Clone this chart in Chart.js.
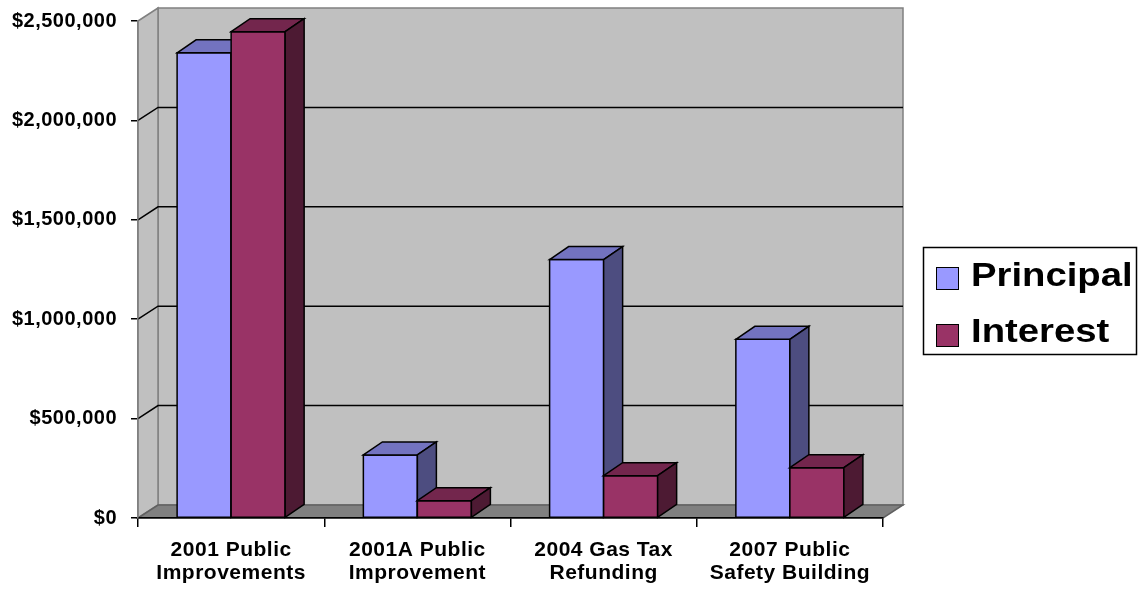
<!DOCTYPE html>
<html lang="en">
<head>
<meta charset="UTF-8">
<title>Debt Service - Principal and Interest</title>
<script src="https://cdn.jsdelivr.net/npm/chart.js"></script>
<style>
    html, body { margin: 0; padding: 0; background: #fff; }
    #wrap { width: 1139px; height: 593px; }
</style>
</head>
<body>
<div id="wrap"><canvas id="debt-chart"></canvas></div>
<script>
    // chart data
    const categories = [
        ['2001 Public', 'Improvements'],
        ['2001A Public', 'Improvement'],
        ['2004 Gas Tax', 'Refunding'],
        ['2007 Public', 'Safety Building']
    ];
    const seriesNames = ['Principal', 'Interest'];
    const principal = [2340000, 317000, 1300000, 899000];
    const interest = [2446000, 87000, 213000, 253000];
    const yTicks = [0, 500000, 1000000, 1500000, 2000000, 2500000];

    const FONT = "'Liberation Sans', Arial, sans-serif";
    const DX = 20, DY = 13;     // depth of the walls
    const BDX = 19, BDY = 13;   // depth of the bars
    const faces = [
        { front: '#9999ff', top: '#7373c0', side: '#4d4d80' },
        { front: '#993366', top: '#73264d', side: '#4d1a33' }
    ];

    function poly(ctx, pts, fill, stroke, lw) {
        ctx.beginPath();
        ctx.moveTo(pts[0][0], pts[0][1]);
        for (let i = 1; i < pts.length; i++) ctx.lineTo(pts[i][0], pts[i][1]);
        ctx.closePath();
        if (fill) { ctx.fillStyle = fill; ctx.fill(); }
        if (stroke) { ctx.strokeStyle = stroke; ctx.lineWidth = lw || 1; ctx.stroke(); }
    }

    const walls3d = {
        id: 'walls3d',
        beforeDraw(chart) {
            const ctx = chart.ctx;
            const { left, right, top, bottom } = chart.chartArea;
            const y = chart.scales.y;
            ctx.save();
            ctx.lineJoin = 'miter';
            // back wall
            poly(ctx, [[left + DX, top - DY], [right + DX, top - DY], [right + DX, bottom - DY], [left + DX, bottom - DY]], '#c0c0c0', '#808080', 1.5);
            // side wall
            poly(ctx, [[left, top], [left + DX, top - DY], [left + DX, bottom - DY], [left, bottom]], '#c0c0c0', '#808080', 1.5);
            // floor
            poly(ctx, [[left, bottom], [left + DX, bottom - DY], [right + DX, bottom - DY], [right, bottom]], '#808080', '#606060', 1.5);
            // gridlines on the walls
            ctx.strokeStyle = '#000';
            ctx.lineWidth = 1.5;
            yTicks.forEach(v => {
                if (v === yTicks[0] || v === yTicks[yTicks.length - 1]) return;
                const py = y.getPixelForValue(v);
                ctx.beginPath();
                ctx.moveTo(left, py);
                ctx.lineTo(left + DX, py - DY);
                ctx.lineTo(right + DX, py - DY);
                ctx.stroke();
            });
            ctx.restore();
            // the axis text in the original is slightly spaced out
            ctx.letterSpacing = '0.5px';
        },
        beforeDatasetsDraw(chart) {
            const ctx = chart.ctx;
            ctx.save();
            ctx.lineJoin = 'miter';
            const n = chart.data.labels.length;
            for (let i = 0; i < n; i++) {
                chart.data.datasets.forEach((ds, d) => {
                    const el = chart.getDatasetMeta(d).data[i];
                    const x0 = el.x - el.width / 2, x1 = el.x + el.width / 2;
                    const yt = el.y, yb = el.base;
                    const f = faces[d];
                    poly(ctx, [[x0, yb], [x0, yt], [x1, yt], [x1, yb]], f.front, '#000', 1.5);
                    poly(ctx, [[x0, yt], [x0 + BDX, yt - BDY], [x1 + BDX, yt - BDY], [x1, yt]], f.top, '#000', 1.5);
                    poly(ctx, [[x1, yt], [x1 + BDX, yt - BDY], [x1 + BDX, yb - BDY], [x1, yb]], f.side, '#000', 1.5);
                });
            }
            ctx.restore();
            return false;
        },
        afterDraw(chart) {
            // legend box on the right
            const ctx = chart.ctx;
            ctx.letterSpacing = '0px';
            ctx.save();
            ctx.strokeStyle = '#000';
            ctx.lineWidth = 1.5;
            ctx.strokeRect(923.5, 247.5, 213, 107);
            chart.data.datasets.forEach((ds, d) => {
                ctx.fillStyle = ds.backgroundColor;
                ctx.fillRect(936.5, 267.5 + d * 57, 22, 22);
                ctx.lineWidth = 1;
                ctx.strokeRect(936.5, 267.5 + d * 57, 22, 22);
                ctx.save();
                ctx.translate(971, 286 + d * 56);
                ctx.scale(1.16, 1);
                ctx.fillStyle = '#000';
                ctx.font = 'bold 33px ' + FONT;
                ctx.textBaseline = 'alphabetic';
                ctx.fillText(ds.label, 0, 0);
                ctx.restore();
            });
            ctx.restore();
        }
    };

    const ctx = document.getElementById('debt-chart').getContext('2d');
    new Chart(ctx, {
        type: 'bar',
        data: {
            labels: categories,
            datasets: [
                { label: seriesNames[0], data: principal, backgroundColor: faces[0].front },
                { label: seriesNames[1], data: interest, backgroundColor: faces[1].front }
            ]
        },
        options: {
            responsive: true,
            maintainAspectRatio: false,
            animation: false,
            categoryPercentage: 0.58,
            barPercentage: 1,
            layout: { padding: { left: 0, right: 256, top: 21, bottom: 0 } },
            plugins: {
                legend: { display: false },
                tooltip: { enabled: false }
            },
            scales: {
                x: {
                    grid: { offset: true, drawOnChartArea: false, tickLength: 9, color: '#000', lineWidth: 1.5 },
                    border: { color: '#000', width: 1.5 },
                    ticks: {
                        padding: 11, color: '#000', maxRotation: 0, autoSkip: false,
                        font: { family: FONT, size: 21, weight: 'bold', lineHeight: 1.12 }
                    },
                    afterFit: s => { s.height = 75; }
                },
                y: {
                    min: yTicks[0],
                    max: yTicks[yTicks.length - 1],
                    grid: { drawOnChartArea: false, tickLength: 7, color: '#000', lineWidth: 1.5 },
                    border: { color: '#808080', width: 1.5 },
                    ticks: {
                        stepSize: 500000, padding: 14, color: '#000',
                        font: { family: FONT, size: 20, weight: 'bold' },
                        callback: v => '$' + v.toLocaleString('en-US')
                    },
                    afterFit: s => { s.width = 138; s.paddingTop = 0; s.paddingBottom = 0; }
                }
            }
        },
        plugins: [walls3d]
    });
</script>
</body>
</html>
